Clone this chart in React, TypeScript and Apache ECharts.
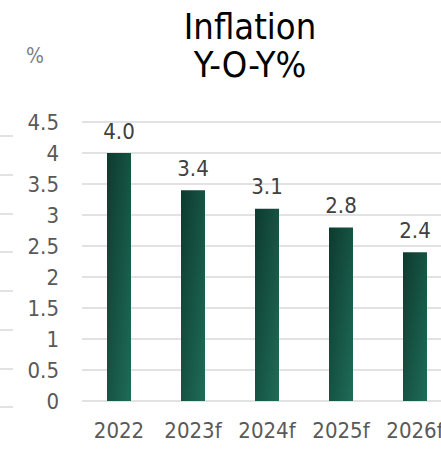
import React, { useEffect, useRef } from "react";
import * as echarts from "echarts";

const categories = ["2022", "2023f", "2024f", "2025f", "2026f"];
const inflation = [4.0, 3.4, 3.1, 2.8, 2.4];
const yMin = 0;
const yMax = 4.5;
const yStep = 0.5;
const titleText = "Inflation\nY-O-Y%";
const unitLabel = "%";
// gridlines of the neighbouring (cropped) chart at the far left
const neighbourCategories = ["a"];
const neighbourMax = 7;

const FONT = "'DejaVu Sans Condensed', 'DejaVu Sans', sans-serif";

export default function App() {
  const ref = useRef<HTMLDivElement>(null);
  useEffect(() => {
    if (!ref.current) return;
    const chart = echarts.init(ref.current, undefined, { renderer: "svg" });
    chart.setOption({
      animation: false,
      backgroundColor: "#ffffff",
      textStyle: { fontFamily: FONT },
      title: {
        text: titleText,
        left: 245,
        top: 2,
        textAlign: "center",
        textStyle: {
          fontFamily: FONT,
          fontSize: 36,
          fontWeight: "normal",
          color: "#000000",
          lineHeight: 38,
        },
      },
      graphic: [
        {
          type: "text",
          left: 26,
          top: 45,
          style: { text: unitLabel, fontFamily: FONT, fontSize: 21, fill: "#7f7f7f" },
        },
      ],
      grid: [
        { left: 82, width: 370, top: 122, bottom: 51, containLabel: false },
        { left: 0, width: 13, top: 136, bottom: 45, containLabel: false },
      ],
      xAxis: [
        {
          type: "category",
          gridIndex: 0,
          data: categories,
          axisLine: { show: false },
          axisTick: { show: false },
          axisLabel: {
            color: "#595959",
            fontSize: 22,
            fontFamily: FONT,
            margin: 18,
            interval: 0,
            hideOverlap: false,
          },
        },
        {
          type: "category",
          gridIndex: 1,
          data: neighbourCategories,
          show: false,
        },
      ],
      yAxis: [
        {
          type: "value",
          gridIndex: 0,
          min: yMin,
          max: yMax,
          interval: yStep,
          axisLine: { show: false },
          axisTick: { show: false },
          axisLabel: { color: "#595959", fontSize: 22, fontFamily: FONT, margin: 23 },
          splitLine: { lineStyle: { color: "#d9d9d9", width: 1.5 } },
        },
        {
          type: "value",
          gridIndex: 1,
          min: 0,
          max: neighbourMax,
          interval: 1,
          axisLine: { show: false },
          axisTick: { show: false },
          axisLabel: { show: false },
          splitLine: { lineStyle: { color: "#d9d9d9", width: 1.5 } },
        },
      ],
      series: [
        {
          type: "bar",
          xAxisIndex: 0,
          yAxisIndex: 0,
          data: inflation,
          barWidth: 24,
          itemStyle: {
            color: new echarts.graphic.LinearGradient(0, 0, 1, 1, [
              { offset: 0, color: "#0d3a2e" },
              { offset: 1, color: "#1f6c58" },
            ]),
          },
          label: {
            show: true,
            position: "top",
            distance: 11,
            color: "#404040",
            fontSize: 22,
            fontFamily: FONT,
            formatter: (p: any) => Number(p.value).toFixed(1),
          },
        },
      ],
    });
    return () => chart.dispose();
  }, []);
  return (
    <div
      style={{
        position: "fixed",
        left: 0,
        top: 0,
        width: 441,
        height: 452,
        overflow: "hidden",
        background: "#ffffff",
      }}
    >
      <div ref={ref} style={{ width: 470, height: 452 }} />
    </div>
  );
}
